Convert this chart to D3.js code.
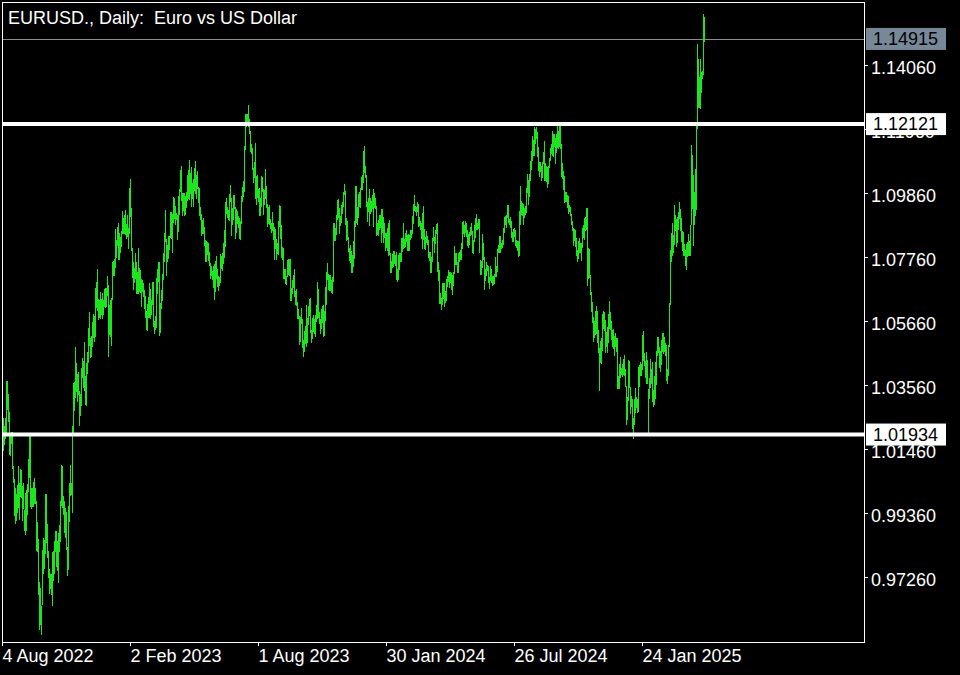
<!DOCTYPE html>
<html><head><meta charset="utf-8">
<script src="https://cdn.jsdelivr.net/npm/d3@7"></script>
<style>
html,body{margin:0;padding:0;background:#000;}
svg{display:block;}
text{font-family:"Liberation Sans",Arial,sans-serif;}
</style></head><body>
<svg id="chart" width="960" height="675"></svg>
<script>
const title = "EURUSD., Daily:  Euro vs US Dollar";
// Daily highs / lows, 4 Aug 2022 .. 22 Apr 2025, in price x 10000
const highs = [
10254,10248,10222,10248,10368,10368,10328,10267,10199,10202,10203,10091,10046,10018,9999,10028,10090,10034,10080,10078,
10025,10033,9945,10000,10011,10030,10113,10198,10187,10018,10017,10037,10050,10018,9975,9907,9852,9710,9690,9631,9815,9855,
9848,9999,9999,9900,9812,9752,9735,9737,9808,9810,9844,9876,9876,9844,9870,9895,9976,10094,10089,9993,9976,
9954,9938,9825,9958,10034,10093,10033,10222,10364,10366,10481,10428,10391,10399,10336,10327,10413,10445,10434,10497,10384,10429,
10465,10544,10594,10511,10518,10564,10588,10583,10673,10695,10736,10637,10636,10660,10639,10659,10635,10671,10673,10673,10713,
10683,10618,10634,10642,10760,10762,10770,10867,10832,10875,10887,10856,10842,10860,10927,10905,10913,10929,10884,10914,10872,
11002,11033,10938,10807,10760,10739,10790,10760,10726,10804,10740,10733,10705,10702,10692,10667,10647,10599,10622,10646,
10691,10670,10636,10694,10694,10567,10581,10706,10736,10759,10760,10625,10669,10720,10789,10855,10930,10834,10815,10846,10846,10925,10925,
10918,10973,10971,10942,10920,10915,10977,11000,11062,11075,10985,10986,10986,10976,10990,11046,11061,11095,11050,11070,
11020,11033,11069,11091,11046,11058,11005,11001,10939,10916,10898,10905,10876,10831,10830,10825,10822,10794,10756,10748,10729,10746,10753,
10764,10779,10735,10713,10709,10787,10780,10790,10822,10865,10955,10970,10940,10930,10982,11012,10968,10937,10978,10979,10940,10934,
10926,10911,10903,10895,10975,11006,11025,11139,11245,11244,11245,11276,11230,11191,11148,11132,11067,11089,11149,11041,11044,
11000,11003,10969,11042,11040,10998,10996,11064,11009,10950,10939,10946,10900,10888,10925,10886,10874,10867,10835,10822,10894,10946,10944,
10882,10810,10807,10737,10735,10713,10767,10768,10769,10769,10673,10699,10718,10737,10666,10670,10627,10604,10581,10578,10609,
10574,10502,10532,10549,10618,10577,10614,10637,10640,10537,10575,10586,10573,10585,10618,10695,10671,10596,10573,10606,10614,10617,
10598,10677,10726,10756,10720,10718,10717,10700,10709,10887,10889,10870,10914,10962,10965,10936,10912,10946,10958,10989,11017,10993,
10904,10893,10840,10805,10815,10797,10781,10828,10895,11010,11009,10940,10983,10988,11003,11040,11045,11125,11140,11073,
11046,10955,10969,11000,10968,10960,10979,10999,10985,10970,10944,10886,10896,10915,10915,10933,10932,10906,10886,10854,10856,10872,
10889,10897,10788,10763,10785,10796,10795,10784,10794,10737,10781,10790,10788,10838,10837,10888,10836,10856,10864,10848,10850,
10849,10864,10865,10911,10951,10981,10942,10940,10958,10950,10908,10895,10888,10920,10942,10867,10843,10861,10844,10832,10792,
10794,10776,10839,10876,10842,10863,10885,10886,10759,10733,10658,10640,10691,10691,10691,10664,10705,10714,10734,10727,10728,10722,
10718,10726,10812,10790,10788,10760,10790,10794,10800,10823,10890,10895,10880,10895,10889,10863,10853,10858,10874,10889,10860,10833,10882,
10903,10916,10886,10902,10900,10766,10764,10852,10823,10775,10738,10761,10751,10747,10709,10745,10737,10715,10712,10720,
10776,10745,10801,10815,10844,10846,10823,10831,10872,10907,10910,10915,10948,10945,10902,10907,10895,10859,10869,10872,10865,10833,10829,
10827,10927,11009,10959,10953,10949,10936,10944,11003,11047,11030,11048,11092,11124,11174,11161,11201,11196,11202,11187,11136,11088,
11089,11075,11089,11120,11155,11085,11075,11070,11075,11100,11135,11146,11189,11180,11180,11168,11181,11214,11191,11210,11209,
11147,11085,11058,11042,10990,10988,10980,10975,10948,10940,10918,10893,10870,10869,10865,10838,10799,10828,10838,10822,10822,10870,10882,
10905,10906,10937,10937,10805,10802,10717,10661,10628,10580,10565,10600,10615,10600,10538,10477,10500,10510,10588,10600,10597,
10570,10530,10545,10590,10630,10595,10565,10536,10540,10518,10525,10510,10509,10387,10426,10447,10412,10425,10440,10455,10408,
10354,10315,10437,10436,10350,10320,10310,10249,10311,10345,10318,10310,10416,10421,10433,10424,10520,10533,10460,10434,10464,10437,
10343,10380,10442,10408,10430,10340,10385,10430,10466,10513,10514,10480,10466,10505,10528,10528,10513,10495,10488,10410,
10488,10625,10798,10855,10888,10848,10947,10914,10902,10906,10925,10955,10935,10904,10862,10857,10818,10800,10820,10825,10852,
10830,10880,11144,11110,11045,10989,11066,11220,11474,11425,11365,11425,11384,11385,11573,11565
];
const lows = [
10154,10141,10160,10178,10196,10274,10236,10125,10123,10164,10079,10034,9926,9901,9910,9936,9951,9913,9990,9985,
9910,9950,9877,9864,9877,9929,10005,10051,9956,9950,9955,9955,9967,9967,9810,9807,9668,9553,9570,9536,9635,9737,
9751,9803,9836,9787,9724,9670,9686,9668,9632,9712,9736,9807,9760,9746,9705,9808,9840,9960,9953,9929,9871,
9853,9816,9730,9750,9905,9991,9995,9935,10195,10270,10314,10333,10301,10322,10223,10255,10288,10379,10346,10336,10290,10288,
10392,10429,10485,10443,10448,10480,10510,10496,10515,10609,10599,10568,10577,10573,10585,10573,10585,10613,10610,10613,10647,
10448,10521,10514,10483,10636,10713,10712,10740,10774,10812,10765,10767,10790,10808,10850,10850,10853,10847,10834,10843,10802,
10851,10906,10797,10706,10668,10690,10704,10656,10656,10654,10660,10659,10612,10660,10644,10604,10577,10536,10533,10576,
10577,10573,10586,10619,10547,10524,10535,10544,10655,10693,10516,10525,10606,10632,10699,10758,10826,10713,10760,10770,10800,10838,10835,
10788,10887,10902,10880,10899,10831,10859,10915,10990,10960,10912,10927,10912,10913,10937,10960,10966,10964,10984,10941,
10965,10941,10992,10983,10967,10998,10952,10911,10899,10845,10851,10852,10811,10760,10759,10784,10763,10746,10705,10715,10701,10673,10635,
10660,10704,10676,10665,10680,10690,10735,10729,10752,10773,10810,10917,10905,10898,10895,10955,10844,10880,10897,10934,10836,10856,
10883,10872,10834,10833,10883,10955,10974,10990,11128,11201,11213,11203,11181,11119,11113,11062,11020,11036,10966,10947,10968,
10958,10910,10912,10941,10988,10913,10947,10967,10938,10875,10885,10881,10867,10854,10860,10833,10765,10803,10766,10785,10783,10875,10834,
10772,10765,10705,10704,10686,10685,10709,10717,10715,10630,10632,10654,10675,10645,10617,10615,10571,10573,10488,10496,10555,
10479,10448,10464,10489,10482,10495,10553,10582,10525,10495,10508,10530,10522,10515,10562,10573,10577,10555,10523,10541,10561,10515,
10516,10567,10620,10700,10667,10665,10666,10657,10656,10695,10827,10827,10849,10897,10905,10851,10879,10886,10918,10939,10980,10880,
10828,10832,10792,10762,10757,10723,10724,10743,10769,10874,10888,10880,10904,10940,10936,10995,10995,11020,11053,11035,
10939,10892,10925,10877,10918,10922,10932,10874,10936,10932,10844,10848,10845,10863,10870,10821,10855,10822,10837,10795,10806,10796,
10779,10781,10723,10722,10741,10742,10754,10746,10701,10695,10701,10732,10761,10761,10793,10802,10805,10810,10826,10796,10796,
10796,10833,10837,10850,10883,10928,10924,10911,10922,10876,10879,10865,10836,10802,10833,10802,10800,10823,10814,10774,10764,
10723,10724,10761,10828,10788,10820,10851,10728,10698,10622,10622,10601,10619,10637,10611,10624,10633,10676,10695,10675,10691,10667,
10650,10680,10720,10750,10750,10724,10723,10760,10765,10766,10801,10850,10842,10854,10843,10813,10805,10815,10846,10847,10789,10785,10824,
10838,10865,10864,10867,10790,10717,10718,10740,10765,10668,10697,10712,10729,10691,10670,10696,10692,10680,10685,10686,
10711,10709,10728,10789,10790,10790,10803,10806,10814,10854,10880,10872,10903,10889,10881,10872,10838,10826,10825,10840,10813,10804,10796,
10777,10778,10880,10914,10910,10880,10904,10914,10920,10985,10946,10973,11025,11060,11090,11108,11106,11147,11162,11104,11057,11040,
11055,11026,11035,11080,11026,11025,11022,11002,11017,11068,11090,11115,11109,11103,11136,11082,11117,11132,11130,11136,11131,
11040,11032,10995,10953,10955,10955,10936,10917,10925,10910,10881,10862,10812,10827,10810,10780,10761,10770,10790,10790,10762,10805,10838,
10833,10860,10865,10682,10705,10706,10652,10595,10560,10496,10510,10520,10522,10495,10460,10335,10428,10425,10466,10540,10532,
10460,10480,10460,10493,10540,10537,10503,10480,10475,10450,10480,10465,10344,10343,10344,10380,10388,10383,10390,10386,10350,
10226,10240,10305,10345,10260,10285,10210,10178,10226,10263,10280,10265,10266,10350,10386,10385,10405,10434,10418,10380,10360,10358,
10200,10310,10345,10358,10300,10284,10290,10310,10357,10450,10460,10413,10400,10423,10464,10459,10465,10452,10370,10360,
10385,10480,10620,10760,10780,10790,10815,10860,10808,10823,10863,10900,10860,10825,10795,10778,10778,10745,10733,10777,10778,
10778,10780,10880,10935,10811,10880,10911,10930,11195,11265,11265,11260,11314,11360,11373,11480
];
const yTickValues = [1.14060, 1.11960, 1.09860, 1.07760, 1.05660, 1.03560, 1.01460, 0.99360, 0.97260];
const xTickBars = [0, 128, 256, 384, 512, 640];
const xTickLabels = ["4 Aug 2022", "2 Feb 2023", "1 Aug 2023", "30 Jan 2024", "26 Jul 2024", "24 Jan 2025"];
const levelLines = [1.12121, 1.01934];
const currentPrice = 1.14915;

const bars = highs.map((h, i) => ({ i, high: h / 10000, low: lows[i] / 10000 }));

const svg = d3.select("#chart");
const plotL = 2, plotR = 864, plotT = 2, plotB = 642;
const x = d3.scaleLinear().domain([0, plotR - plotL]).range([plotL, plotR]);
const y = d3.scaleLinear().domain([0.95127, 1.16127]).range([plotB, plotT]);

svg.append("rect").attr("width", 960).attr("height", 675).attr("fill", "#000");

// current price line (under bars)
svg.append("line")
  .attr("x1", plotL).attr("x2", plotR)
  .attr("y1", Math.round(y(currentPrice)) + 0.5).attr("y2", Math.round(y(currentPrice)) + 0.5)
  .attr("stroke", "#8c8c8c").attr("stroke-width", 1);

// bars
svg.append("g").attr("shape-rendering", "crispEdges")
  .selectAll("rect").data(bars).join("rect")
  .attr("x", d => x(d.i))
  .attr("width", 1)
  .attr("y", d => y(d.high))
  .attr("height", d => Math.max(1, y(d.low) - y(d.high)))
  .attr("fill", "#1ee61e");

// horizontal levels
svg.append("g").selectAll("line").data(levelLines).join("line")
  .attr("x1", plotL).attr("x2", plotR)
  .attr("y1", d => y(d)).attr("y2", d => y(d))
  .attr("stroke", "#fff").attr("stroke-width", 4);

// frame
svg.append("rect").attr("x", plotL + 0.5).attr("y", plotT + 0.5)
  .attr("width", plotR - plotL).attr("height", plotB - plotT)
  .attr("fill", "none").attr("stroke", "#fff").attr("stroke-width", 1)
  .attr("shape-rendering", "crispEdges");

// y axis
const yAxis = svg.append("g").attr("transform", `translate(${plotR},0)`)
  .call(d3.axisRight(y).tickValues(yTickValues).tickSize(4).tickSizeOuter(0).tickPadding(3)
    .tickFormat(d3.format(".5f")));
yAxis.select(".domain").attr("stroke", "#fff");
yAxis.selectAll(".tick line").attr("stroke", "#fff");
yAxis.selectAll(".tick text").attr("fill", "#fff").attr("font-size", 18)
  .attr("dy", "0.45em")
  .attr("font-family", "'Liberation Sans', Arial, sans-serif");

// x axis
const xAxis = svg.append("g").attr("transform", `translate(0,${plotB})`)
  .call(d3.axisBottom(x).tickValues(xTickBars).tickSize(4).tickSizeOuter(0)
    .tickFormat((d, i) => xTickLabels[i]));
xAxis.select(".domain").attr("stroke", "#fff");
xAxis.selectAll(".tick line").attr("stroke", "#fff");
xAxis.selectAll(".tick text").attr("fill", "#fff").attr("font-size", 18)
  .attr("text-anchor", "start").attr("x", 0)
  .attr("font-family", "'Liberation Sans', Arial, sans-serif");

// price labels on the right axis
const priceLabels = [
  { v: levelLines[0], fill: "#fff" },
  { v: levelLines[1], fill: "#fff" },
  { v: currentPrice, fill: "#778899" }
];
const pl = svg.append("g").selectAll("g").data(priceLabels).join("g")
  .attr("transform", d => `translate(866,${y(d.v)})`);
pl.append("rect").attr("x", 0).attr("y", -11).attr("width", 80).attr("height", 22)
  .attr("fill", d => d.fill);
pl.append("text").attr("x", 7).attr("dy", "0.35em")
  .attr("font-size", 18).attr("fill", "#000")
  .text(d => d3.format(".5f")(d.v));

// title
svg.append("text").attr("x", 8).attr("y", 23.5)
  .attr("font-size", 18).attr("fill", "#fff")
  .style("white-space", "pre")
  .text(title);
</script>
</body></html>
